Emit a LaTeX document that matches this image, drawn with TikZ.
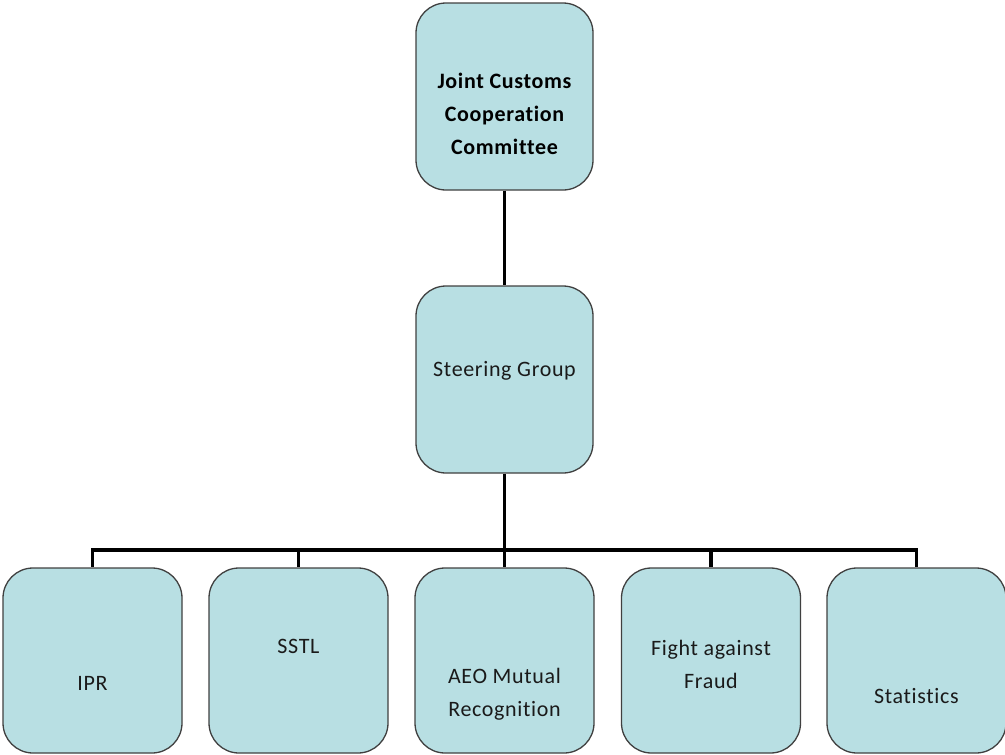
\documentclass[tikz,border=0pt]{standalone}
\usepackage{fontspec}
\setmainfont{Carlito}[LetterSpace=3,Ligatures=NoCommon]
\definecolor{boxfill}{HTML}{B8DFE3}
\definecolor{boxline}{HTML}{404040}
\definecolor{txt}{HTML}{1A1A1A}
\begin{document}
\begin{tikzpicture}[x=1pt,y=-1pt,
  orgbox/.style={draw=boxline,line width=1.3pt,fill=boxfill,rounded corners=30pt,
    minimum width=177pt,minimum height=187pt,inner sep=0pt},
  lowbox/.style={orgbox,minimum width=179pt,minimum height=185pt},
  lbl/.style={text=txt,align=center,font=\fontsize{22}{33}\selectfont,inner sep=0pt},
  conn/.style={line width=3.3pt,draw=black}]
\useasboundingbox (0,0) rectangle (1005,755);
\node[orgbox] (top) at (504.5,96.5) {};
\node[orgbox] (steer) at (504.5,379.5) {};
\node[lowbox] (ipr) at (92.5,660.5) {};
\node[lowbox] (sstl) at (298.5,660.5) {};
\node[lowbox] (aeo) at (504.5,660.5) {};
\node[lowbox] (fraud) at (711,660.5) {};
\node[lowbox] (stat) at (916.5,660.5) {};
\coordinate (bus) at (504.5,550);
\draw[conn] (top.south) -- (steer.north);
\draw[conn] (steer.south) -- (bus);
\foreach \b in {ipr,sstl,aeo,fraud,stat} {\draw[conn] (bus) -| (\b.north);}
\node[lbl,font=\fontsize{22}{33}\bfseries,text=black] (toplbl) at (504.5,114) {Joint Customs\\Cooperation\\Committee};
\node[lbl] (steerlbl) at (504.5,371) {Steering Group};
\node[lbl] (iprlbl) at (92.5,683) {IPR};
\node[lbl] (sstllbl) at (298.5,646) {SSTL};
\node[lbl] (aeolbl) at (504.5,694) {AEO Mutual\\Recognition};
\node[lbl] (fraudlbl) at (711,664) {Fight against\\Fraud};
\node[lbl] (statlbl) at (916.5,696) {Statistics};
\end{tikzpicture}
\end{document}
